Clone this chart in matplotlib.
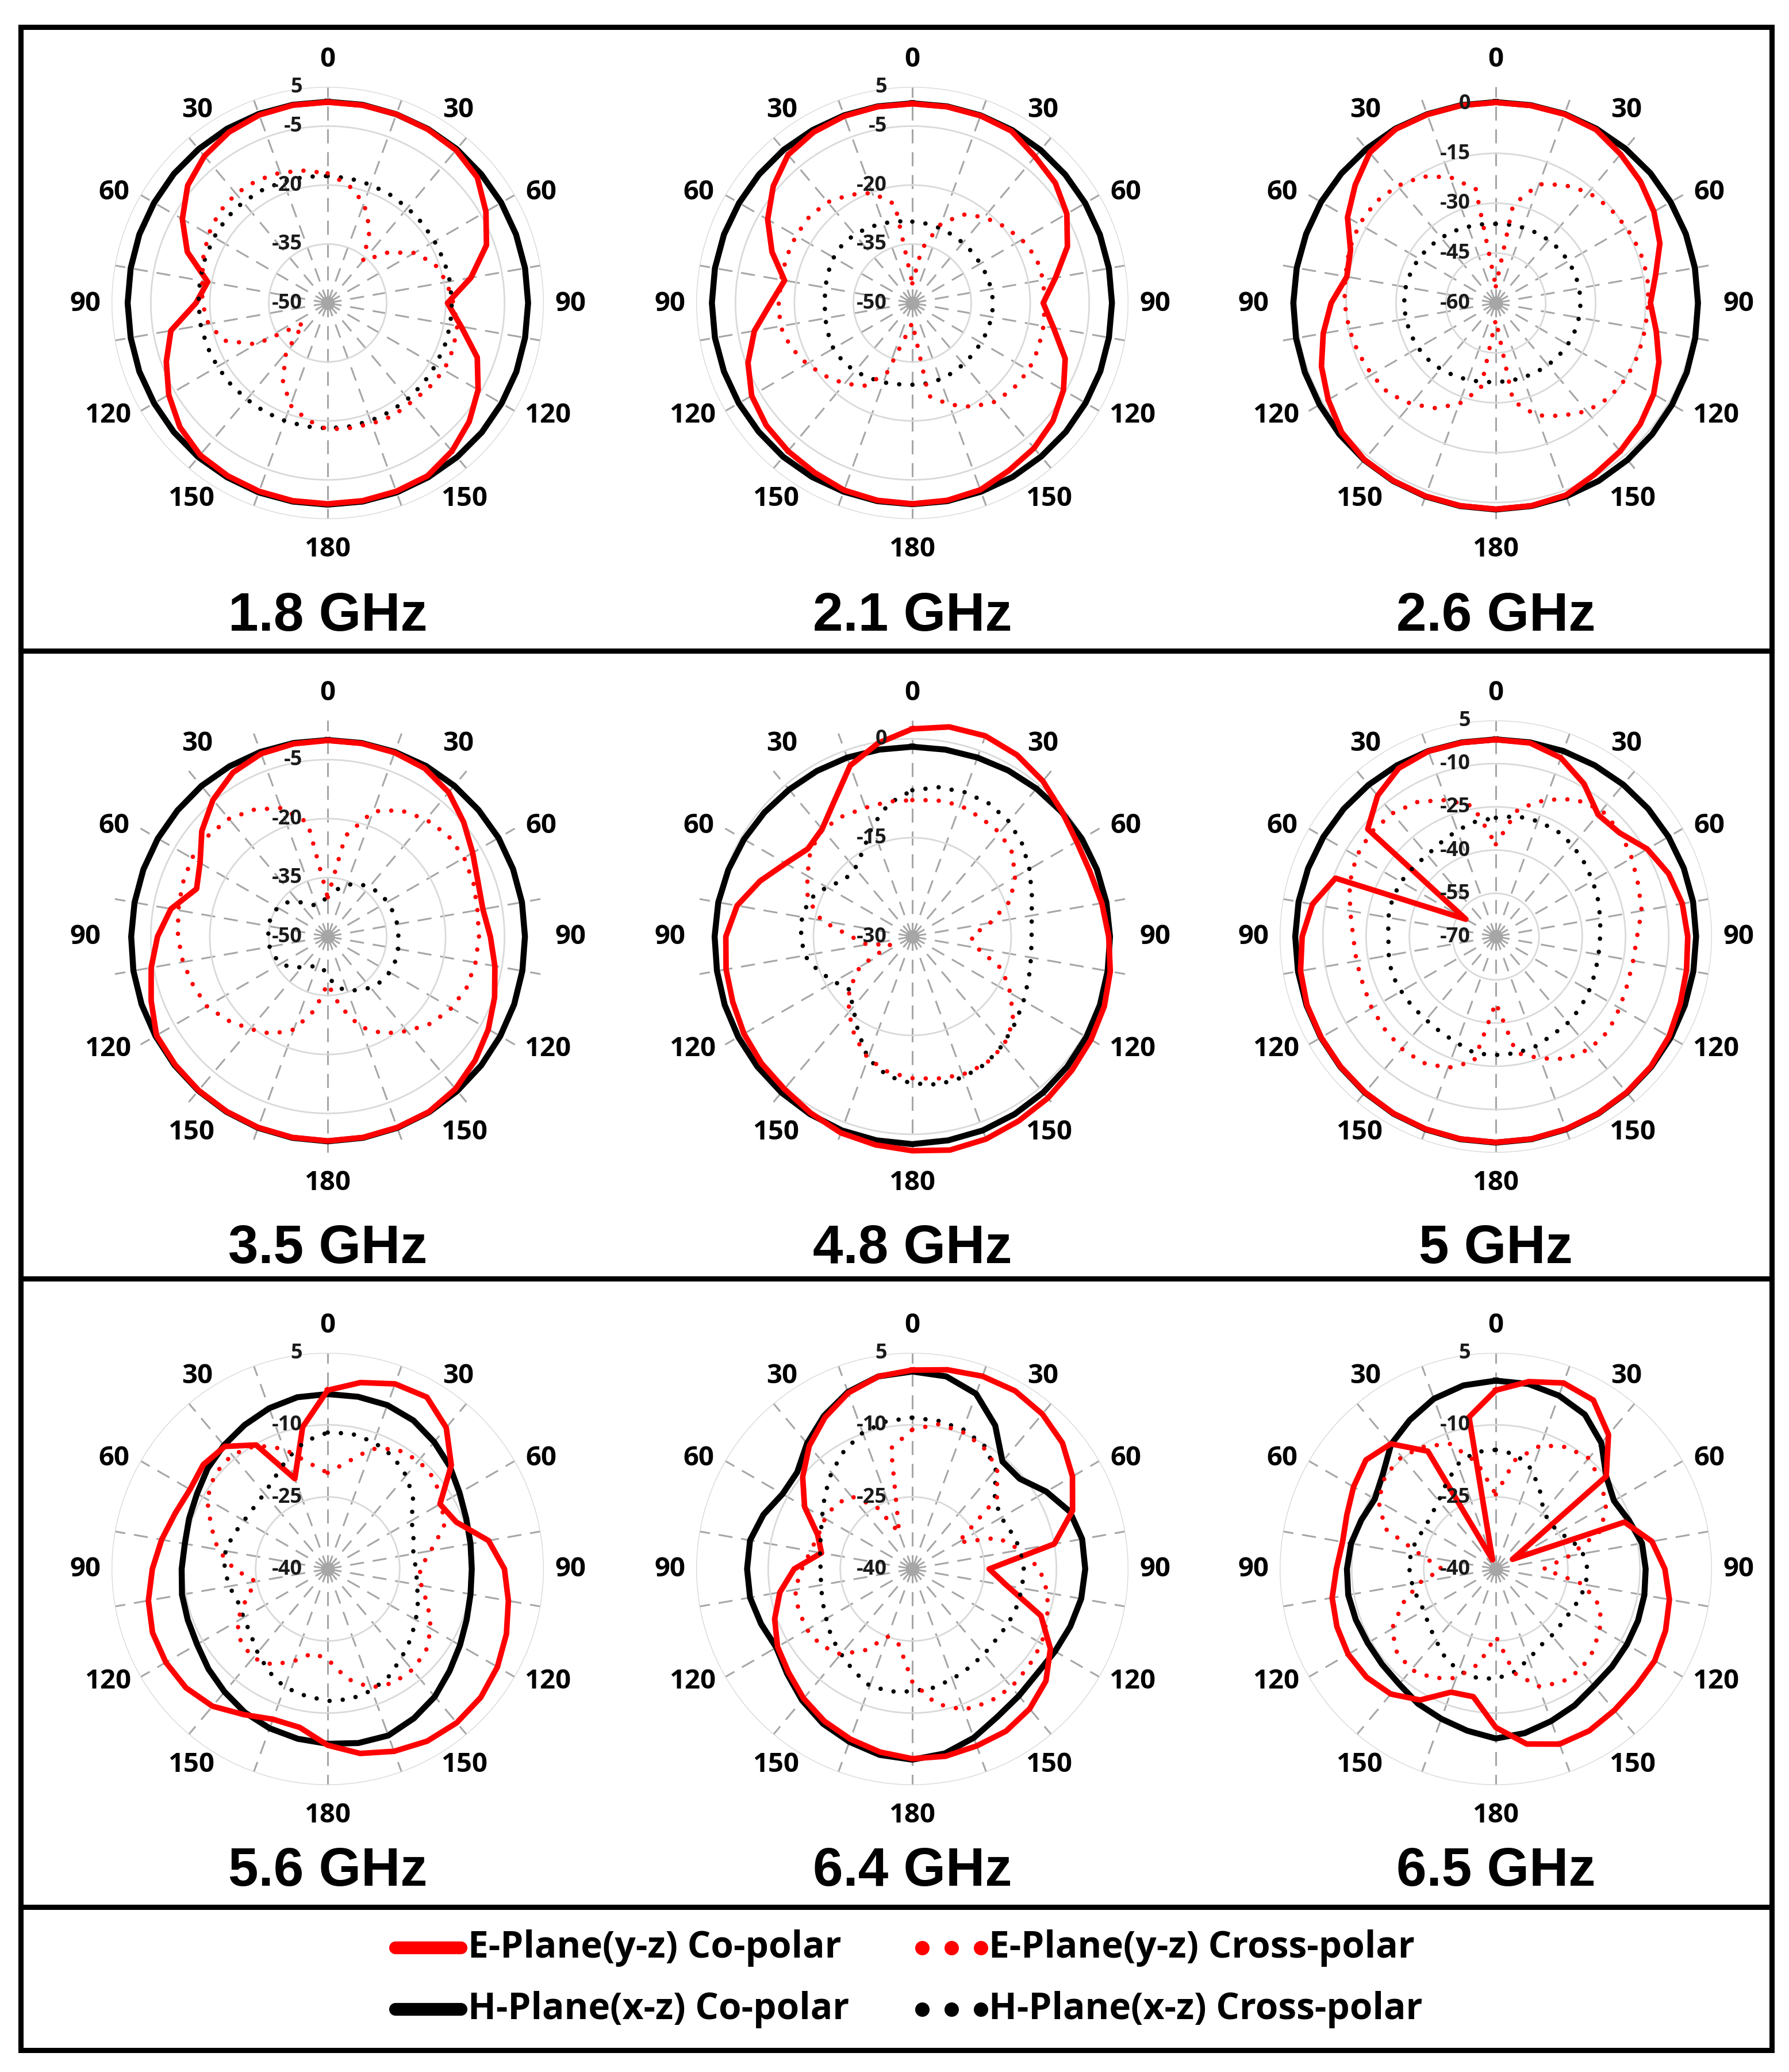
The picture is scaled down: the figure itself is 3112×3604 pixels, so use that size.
import numpy as np
import matplotlib
matplotlib.use("Agg")
import matplotlib.pyplot as plt
from matplotlib.lines import Line2D
from matplotlib.patches import Rectangle

# angulos medidos (graus), passo de 10
angulos = np.arange(0, 360, 10)

# ---------------- 1.8 GHz ----------------
e_co_18 = [1.1, 1.1, 1.1, 1.0, 0.8, -0.3, -3.5, -7.0, -13.0, -19.5, -15.5, -9.5, -5.8, -3.0, -0.8, 0.8, 1.0, 1.1,
           1.1, 1.1, 1.0, 0.8, 0.5, -0.9, -3.3, -6.3, -9.5, -16.5, -19.0, -12.0, -7.3, -3.5, -1.2, 0.2, 0.9, 1.1]
e_x_18 = [-17.0, -19.5, -23.0, -28.5, -36.0, -30.0, -24.5, -21.0, -19.3, -18.0, -16.5, -16.0, -15.8, -16.4, -17.0,
          -16.8, -17.3, -17.7, -17.8, -19.8, -22.3, -27.2, -33.5, -42.0, -29.0, -22.0, -19.2, -18.1, -17.6, -16.3,
          -15.0, -14.0, -13.7, -14.0, -14.7, -15.8]
h_co_18 = [1.2, 1.2, 1.1, 1.1, 1.1, 1.0, 1.0, 1.0, 1.0, 1.0, 1.0, 1.1, 1.1, 1.2, 1.2, 1.2, 1.3, 1.3,
           1.3, 1.3, 1.3, 1.2, 1.2, 1.1, 1.0, 1.0, 0.9, 0.9, 0.9, 1.0, 1.0, 1.1, 1.1, 1.2, 1.2, 1.2]
h_x_18 = [-17.7, -17.8, -18.0, -18.2, -18.4, -18.5, -18.6, -18.5, -18.4, -18.4, -18.3, -18.3, -18.3, -18.2, -18.2,
          -18.1, -18.1, -18.1, -18.1, -18.1, -18.1, -18.0, -18.0, -17.8, -17.6, -17.4, -17.2, -17.1, -17.0, -16.8,
          -16.6, -16.4, -16.5, -16.8, -17.1, -17.4]

# ---------------- 2.1 GHz ----------------
e_co_21 = [0.7, 0.7, 0.7, 0.5, -1.4, -2.5, -4.6, -8.0, -13.0, -16.7, -13.5, -8.6, -5.6, -3.3, -1.8, -0.8, 0.6, 1.0,
           1.1, 1.0, 0.7, -0.2, -0.8, -1.5, -2.8, -5.5, -9.2, -14.0, -17.0, -12.0, -7.5, -3.8, -0.8, 0.2, 0.6, 0.7]
e_x_21 = [-45.0, -36.0, -28.5, -24.0, -21.5, -19.6, -17.8, -16.4, -16.2, -16.3, -16.1, -15.9, -15.8, -16.3, -17.2,
          -19.5, -22.5, -26.0, -45.0, -42.0, -31.0, -25.7, -23.2, -21.1, -19.0, -17.1, -15.9, -16.0, -16.1, -15.9,
          -15.8, -15.8, -16.5, -18.2, -20.2, -24.5]
h_co_21 = [0.8, 0.8, 0.8, 0.8, 0.8, 0.8, 0.8, 0.8, 0.8, 0.8, 0.8, 0.9, 0.9, 1.0, 1.0, 1.1, 1.1, 1.2,
           1.2, 1.2, 1.1, 1.1, 1.1, 1.0, 1.0, 1.0, 1.0, 1.0, 1.0, 1.0, 0.9, 0.9, 0.9, 0.8, 0.8, 0.8]
h_x_21 = [-29.3, -29.5, -29.7, -29.9, -30.0, -30.0, -30.0, -29.8, -29.6, -29.4, -29.5, -29.6, -29.8, -29.8, -29.7,
          -29.5, -29.3, -29.2, -29.2, -29.0, -28.5, -28.0, -27.3, -26.9, -26.8, -27.2, -27.5, -27.7, -27.5, -27.2,
          -26.9, -26.8, -27.2, -27.8, -28.4, -28.9]

# ---------------- 2.6 GHz ----------------
e_co_26 = [0.3, 0.3, 0.4, 0.2, -1.6, -3.2, -5.1, -7.5, -11.2, -13.5, -11.0, -7.8, -5.2, -3.3, -1.8, -0.5, 1.5, 1.9,
           2.0, 1.9, 1.8, 1.7, 1.5, 0.5, -1.8, -4.2, -7.3, -10.5, -14.5, -13.5, -8.5, -4.8, -1.0, 0.3, 0.3, 0.3]
e_x_26 = [-55.0, -30.0, -22.0, -19.0, -16.6, -15.4, -14.6, -13.9, -13.7, -14.1, -14.4, -14.4, -14.7, -15.6, -17.5,
          -20.8, -24.0, -30.0, -55.0, -34.0, -27.7, -23.5, -20.4, -17.8, -16.9, -16.0, -15.2, -14.5, -14.0, -13.1,
          -12.6, -12.8, -14.0, -16.1, -19.7, -25.2]
h_co_26 = [0.4, 0.4, 0.5, 0.5, 0.6, 0.7, 0.7, 0.8, 0.8, 0.8, 0.9, 1.1, 1.2, 1.4, 1.6, 1.8, 1.9, 2.0,
           2.1, 2.0, 1.9, 1.8, 1.6, 1.4, 1.2, 1.1, 1.0, 0.9, 0.8, 0.7, 0.7, 0.6, 0.5, 0.5, 0.4, 0.4]
h_x_26 = [-36.2, -36.1, -35.9, -35.6, -35.3, -35.0, -34.8, -34.6, -34.5, -34.5, -34.6, -34.8, -35.0, -35.3, -35.6,
          -35.9, -36.1, -36.2, -36.2, -35.9, -35.4, -34.8, -34.1, -33.5, -33.0, -32.7, -32.5, -32.4, -32.5, -32.8,
          -33.2, -33.8, -34.4, -35.0, -35.6, -36.0]

# ---------------- 3.5 GHz ----------------
e_co_35 = [-0.1, -0.1, -0.2, -0.6, -2.1, -4.8, -7.4, -9.3, -9.9, -8.6, -6.8, -4.8, -2.8, -1.0, 0.6, 1.5, 1.7, 1.9,
           2.0, 1.9, 1.7, 1.4, 1.1, 0.7, 0.3, -2.2, -4.4, -6.7, -9.5, -14.5, -12.5, -8.2, -4.6, -1.8, -0.5, -0.2]
e_x_35 = [-40.0, -24.0, -16.1, -12.9, -11.1, -10.0, -9.9, -10.5, -11.3, -11.5, -11.8, -12.3, -13.6, -15.6, -18.6,
          -21.5, -25.5, -32.0, -38.0, -31.0, -24.8, -21.4, -19.3, -16.8, -14.5, -13.6, -12.6, -11.9, -11.4, -10.7,
          -10.1, -10.2, -10.9, -12.7, -15.2, -20.5]
h_co_35 = [0.0, 0.0, 0.0, 0.1, 0.1, 0.1, 0.2, 0.2, 0.2, 0.2, 0.3, 0.5, 0.7, 1.0, 1.3, 1.6, 1.8, 2.0,
           2.1, 2.0, 1.8, 1.5, 1.2, 0.9, 0.6, 0.4, 0.2, 0.0, -0.1, -0.1, -0.1, -0.1, 0.0, 0.0, 0.0, 0.0]
h_x_35 = [-40.0, -38.0, -36.0, -34.5, -33.5, -32.8, -32.4, -32.2, -32.0, -32.0, -31.8, -31.7, -31.8, -32.2, -33.0,
          -34.3, -35.3, -37.0, -40.0, -42.0, -42.0, -41.2, -39.8, -37.8, -36.2, -35.5, -35.0, -34.9, -34.7, -34.7,
          -35.3, -36.5, -38.5, -40.5, -41.6, -41.0]

# ---------------- 4.8 GHz ----------------
e_co_48 = [1.5, 2.3, 2.4, 1.8, 0.8, -0.4, -1.2, -1.3, -0.8, -0.2, 0.5, 1.0, 1.3, 1.6, 2.0, 2.3, 2.7, 2.9,
           2.5, 2.1, 1.7, 0.9, 0.2, -0.1, -0.5, -1.0, -1.3, -1.7, -3.0, -5.4, -7.8, -9.3, -8.7, -6.3, -2.4, -0.2]
e_x_48 = [-9.3, -9.0, -8.8, -9.2, -9.4, -10.2, -12.0, -14.2, -18.0, -21.1, -20.0, -15.5, -12.8, -10.0, -8.4,
          -7.7, -7.7, -8.1, -8.5, -9.1, -10.3, -12.5, -15.0, -17.5, -20.8, -26.5, -23.0, -20.7, -16.0, -13.1,
          -11.6, -9.8, -8.8, -8.9, -9.2, -9.2]
h_co_48 = [-1.2, -1.2, -1.1, -0.9, -0.7, -0.5, -0.3, -0.2, -0.1, 0.0, 0.1, 0.3, 0.5, 0.7, 0.9, 1.1, 1.3, 1.4,
           1.5, 1.4, 1.3, 1.1, 0.9, 0.7, 0.5, 0.3, 0.1, 0.0, -0.1, -0.3, -0.5, -0.7, -0.9, -1.0, -1.1, -1.2]
h_x_48 = [-7.8, -7.0, -6.7, -6.7, -7.2, -8.2, -9.5, -10.7, -11.6, -11.9, -11.7, -11.2, -10.5, -9.6, -8.6,
          -7.7, -7.3, -7.2, -7.7, -8.5, -10.3, -13.5, -16.0, -17.5, -16.3, -14.8, -13.4, -13.1, -13.0, -13.4,
          -15.0, -16.6, -16.5, -15.0, -12.2, -9.5]

# ---------------- 5 GHz ----------------
e_co_5 = [-1.7, -1.8, -4.0, -8.8, -14.8, -14.0, -9.3, -6.2, -4.3, -3.4, -2.8, -1.9, -0.6, 0.2, 0.6, 0.9, 1.1, 1.3,
          1.4, 1.3, 1.1, 0.9, 0.6, 0.3, 0.0, -0.3, -1.2, -2.8, -5.4, -10.8, -58.0, -12.0, -6.2, -2.6, -1.6, -1.7]
e_x_5 = [-38.0, -25.0, -19.5, -15.0, -12.8, -13.6, -15.5, -17.4, -18.6, -21.0, -21.6, -21.4, -20.4, -19.0, -19.2,
         -21.0, -25.0, -29.0, -47.0, -26.0, -21.5, -19.4, -19.2, -19.8, -20.3, -21.0, -20.9, -20.5, -18.7, -16.0,
         -14.2, -13.6, -14.2, -16.0, -19.6, -24.0]
h_co_5 = [-1.6, -1.6, -1.5, -1.4, -1.2, -1.0, -0.8, -0.6, -0.5, -0.5, -0.4, -0.2, 0.1, 0.4, 0.7, 1.0, 1.2, 1.4,
          1.5, 1.4, 1.2, 1.0, 0.7, 0.4, 0.1, -0.1, -0.3, -0.4, -0.5, -0.7, -0.9, -1.1, -1.3, -1.4, -1.5, -1.6]
h_x_5 = [-28.8, -27.6, -27.4, -27.6, -28.6, -30.0, -31.2, -32.3, -33.2, -33.8, -33.8, -33.3, -32.6, -31.6, -31.0,
         -30.6, -29.5, -28.9, -28.9, -28.8, -30.7, -31.7, -32.3, -32.2, -32.1, -31.6, -32.3, -32.7, -32.1, -31.8,
         -32.0, -32.6, -33.0, -32.2, -30.8, -29.5]

# ---------------- 5.6 GHz ----------------
e_co_56 = [-2.8, -0.6, 1.0, 1.3, -1.6, -6.4, -13.0, -11.5, -6.0, -3.2, -1.8, -0.4, 0.8, 1.6, 1.8, 1.4, 0.4, -1.0,
           -3.3, -6.5, -6.7, -5.0, -2.7, -1.5, -1.1, -1.2, -2.1, -3.5, -4.9, -6.2, -6.9, -6.2, -6.7, -10.2, -20.0, -10.0]
e_x_56 = [-20.0, -17.5, -13.4, -11.2, -10.6, -10.9, -12.6, -14.2, -18.2, -20.8, -20.2, -17.8, -15.2, -13.3, -12.6,
          -12.6, -13.7, -16.8, -21.2, -22.2, -19.6, -17.0, -15.8, -16.4, -18.2, -22.0, -24.8, -20.5, -16.8, -14.2,
          -11.0, -9.3, -9.0, -10.3, -13.4, -17.6]
h_co_56 = [-3.6, -3.6, -3.7, -4.3, -5.5, -6.8, -8.3, -9.3, -9.8, -10.0, -9.8, -9.2, -8.2, -6.9, -5.3, -4.1, -3.1, -3.2,
           -3.6, -4.1, -4.7, -5.5, -6.6, -7.6, -8.6, -9.0, -9.2, -9.6, -9.8, -9.3, -8.6, -7.4, -6.4, -5.4, -4.4, -3.7]
h_x_56 = [-11.6, -11.4, -11.9, -12.9, -14.6, -16.8, -19.8, -21.0, -21.9, -21.6, -21.1, -20.0, -18.8, -17.4, -16.0,
          -14.3, -13.1, -12.5, -12.5, -13.2, -13.8, -15.4, -17.3, -19.0, -19.8, -20.1, -19.2, -18.5, -18.4, -19.1,
          -19.9, -20.0, -19.5, -18.0, -15.5, -13.0]

# ---------------- 6.4 GHz ----------------
e_co_64 = [1.4, 2.1, 2.7, 2.8, 2.1, 0.8, -1.5, -4.5, -10.0, -24.0, -20.0, -11.5, -6.8, -3.7, -2.0, -1.0, -0.8, -0.4,
           -0.5, -1.3, -2.3, -3.4, -4.8, -6.4, -7.6, -9.5, -12.0, -15.4, -20.8, -19.0, -14.1, -10.2, -6.6, -3.6, -1.0, 0.7]
e_x_64 = [-11.0, -9.4, -9.6, -10.6, -12.5, -17.0, -29.0, -21.0, -17.2, -13.5, -11.4, -10.1, -8.9, -8.4, -7.9,
          -8.0, -8.8, -11.5, -16.5, -24.0, -25.0, -20.5, -16.8, -15.2, -14.7, -14.8, -15.2, -17.0, -18.5, -19.2,
          -19.0, -19.1, -20.3, -25.0, -32.0, -14.5]
h_co_64 = [1.1, 0.7, -1.2, -5.5, -10.8, -10.8, -7.8, -5.1, -4.1, -4.0, -4.3, -5.0, -5.7, -6.1, -5.5, -4.5, -2.6, -1.0,
           -0.3, -0.7, -1.7, -2.8, -4.3, -6.0, -7.3, -6.5, -5.7, -5.6, -5.7, -7.0, -8.8, -8.7, -5.9, -3.2, -0.8, 0.7]
h_x_64 = [-8.5, -8.7, -9.1, -10.2, -13.0, -17.6, -18.6, -18.0, -17.1, -16.8, -16.8, -16.9, -17.0, -17.2, -16.8,
          -16.3, -15.6, -14.9, -14.5, -14.1, -14.1, -15.5, -16.9, -18.0, -19.3, -20.1, -20.7, -20.9, -20.5, -19.7,
          -18.3, -16.2, -13.8, -11.6, -9.8, -8.8]

# ---------------- 6.5 GHz ----------------
e_co_65 = [-2.8, -0.4, 1.2, 0.6, -3.5, -10.0, -36.0, -11.5, -7.0, -4.8, -3.3, -2.4, -1.8, -1.9, -1.6, -1.1, -1.2, -3.0,
           -7.0, -13.0, -12.7, -8.5, -6.0, -4.9, -4.5, -4.8, -5.4, -6.8, -7.6, -7.0, -5.8, -4.7, -6.0, -11.7, -38.0, -7.9]
e_x_65 = [-24.5, -17.0, -12.6, -10.7, -9.9, -11.5, -13.5, -16.7, -24.5, -30.0, -21.5, -16.8, -15.0, -13.5, -12.6,
          -12.7, -14.0, -18.0, -26.0, -20.0, -15.8, -13.8, -12.6, -13.1, -15.0, -19.5, -24.0, -28.8, -24.5, -15.5,
          -11.8, -9.9, -9.5, -10.5, -12.3, -17.5]
h_co_65 = [-0.8, -0.9, -1.6, -2.9, -5.8, -10.0, -11.6, -10.5, -9.1, -8.8, -8.6, -8.5, -8.5, -8.4, -8.2, -7.2, -6.3, -5.3,
           -4.7, -5.8, -6.8, -7.6, -8.7, -9.1, -9.2, -9.0, -8.8, -9.0, -9.4, -10.2, -10.9, -9.3, -6.1, -4.2, -2.3, -1.2]
h_x_65 = [-15.2, -15.8, -18.0, -21.5, -24.5, -25.2, -24.8, -23.0, -21.6, -20.9, -21.0, -21.5, -22.1, -22.2, -21.9,
          -21.5, -20.0, -18.2, -17.1, -17.0, -17.4, -18.8, -20.6, -21.8, -22.7, -22.6, -22.3, -22.0, -22.0, -22.4,
          -22.9, -22.5, -21.5, -19.4, -16.8, -15.3]

titulos = ["1.8 GHz", "2.1 GHz", "2.6 GHz", "3.5 GHz", "4.8 GHz", "5 GHz", "5.6 GHz", "6.4 GHz", "6.5 GHz"]
dados = [(e_co_18, e_x_18, h_co_18, h_x_18), (e_co_21, e_x_21, h_co_21, h_x_21), (e_co_26, e_x_26, h_co_26, h_x_26),
         (e_co_35, e_x_35, h_co_35, h_x_35), (e_co_48, e_x_48, h_co_48, h_x_48), (e_co_5, e_x_5, h_co_5, h_x_5),
         (e_co_56, e_x_56, h_co_56, h_x_56), (e_co_64, e_x_64, h_co_64, h_x_64), (e_co_65, e_x_65, h_co_65, h_x_65)]

# escala radial de cada grafico: (minimo no centro, maximo na ponta dos raios, valores rotulados)
escalas = [(-50, 5, [-50, -35, -20, -5, 5]), (-50, 5, [-50, -35, -20, -5, 5]), (-60, 5, [-60, -45, -30, -15, 0]),
           (-50, 5, [-50, -35, -20, -5]), (-30, 2.8, [-30, -15, 0]), (-70, 5, [-70, -55, -40, -25, -10, 5]),
           (-40, 5, [-40, -25, -10, 5]), (-40, 5, [-40, -25, -10, 5]), (-40, 5, [-40, -25, -10, 5])]

# rotulos angulares: texto, angulo onde fica o centro do texto e distancia ao centro (px)
rotulos_ang = [("0", 0, 425), ("30", 34, 406), ("60", 62.5, 419), ("90", 90, 422), ("120", 117, 429),
               ("150", 145, 414), ("180", 180, 428), ("150", 215, 414), ("120", 243, 429), ("90", 270, 422),
               ("60", 297.5, 419), ("30", 326, 406)]

# geometria em pixels da figura
W, H = 3112, 3605
R = 376
centros_x = [570, 1587, 2602]
centros_y = [528, 1630, 2730]
titulos_y = [1073, 2173, 3256]

fig = plt.figure(figsize=(W / 100, H / 100), dpi=100)
fig.patch.set_facecolor("white")

theta = np.deg2rad(np.append(angulos, 360))


def fechar(v):
    return np.append(v, v[0])


for i in range(9):
    lin, col = divmod(i, 3)
    cx, cy = centros_x[col], centros_y[lin]
    rmin, rmax, ticks = escalas[i]
    e_co, e_x, h_co, h_x = dados[i]

    ax = fig.add_axes([(cx - R) / W, 1 - (cy + R) / H, 2 * R / W, 2 * R / H], projection="polar")
    ax.set_theta_zero_location("N")
    ax.set_theta_direction(-1)
    ax.set_ylim(rmin, rmax)
    ax.set_axisbelow(True)
    ax.set_facecolor("none")
    ax.spines["polar"].set_visible(False)
    ax.set_xticks(np.deg2rad(np.arange(0, 360, 20)))
    ax.set_xticklabels([])
    ax.set_yticks([t for t in ticks if t > rmin])
    ax.set_yticklabels([])
    ax.tick_params(length=0)
    ax.xaxis.grid(True, color="#a6a6a6", lw=2.2, linestyle=(0, (8, 5)))
    ax.yaxis.grid(True, color="#d9d9d9", lw=2.0, linestyle="-")

    # curvas
    ax.plot(theta, fechar(h_co), color="black", lw=7.5, clip_on=False, zorder=3)
    ax.plot(theta, fechar(e_co), color="red", lw=7.0, clip_on=False, zorder=4)
    ax.plot(theta, fechar(h_x), color="black", lw=5.5, linestyle=(0, (0.01, 3.0)),
            dash_capstyle="round", clip_on=False, zorder=5)
    ax.plot(theta, fechar(e_x), color="red", lw=5.5, linestyle=(0, (0.01, 3.0)),
            dash_capstyle="round", clip_on=False, zorder=6)
    ax.plot([0], [rmin], "o", color="#a6a6a6", ms=16, clip_on=False, zorder=2)

    # rotulos radiais
    for t in ticks:
        ax.text(0.5 - 44 / (2 * R), 0.5 + 0.5 * (t - rmin) / (rmax - rmin), str(t), transform=ax.transAxes,
                ha="right", va="center", fontsize=26, fontweight="bold", family="Open Sans",
                color="#1a1a1a", zorder=7)

    # rotulos angulares
    for lab, a, dist in rotulos_ang:
        ar = np.deg2rad(a)
        f = dist / (2 * R)
        ax.text(0.5 + f * np.sin(ar), 0.5 + f * np.cos(ar), lab, transform=ax.transAxes,
                ha="center", va="center", fontsize=34, fontweight="bold", family="Open Sans")

    fig.text(cx / W, 1 - titulos_y[lin] / H, titulos[i], ha="center", va="center",
             fontsize=68, fontweight="bold", family="Liberation Sans")

# moldura e divisorias
x0, x1 = 36 / W, 3082 / W
fig.add_artist(Rectangle((x0, 1 - 3567 / H), x1 - x0, (3567 - 48) / H, transform=fig.transFigure,
                         fill=False, edgecolor="black", lw=6.5))
for yl in [1133, 2225, 3318]:
    fig.add_artist(Line2D([x0, x1], [1 - yl / H, 1 - yl / H], transform=fig.transFigure, color="black", lw=6.5))

# legenda
leg = [("red", "-", "E-Plane(y-z) Co-polar", 3389), ("red", ":", "E-Plane(y-z) Cross-polar", 3389),
       ("black", "-", "H-Plane(x-z) Co-polar", 3496), ("black", ":", "H-Plane(x-z) Cross-polar", 3496)]
for cor, estilo, texto, yy in leg:
    fy = 1 - yy / H
    if estilo == "-":
        fig.add_artist(Line2D([688 / W, 802 / W], [fy, fy], transform=fig.transFigure, color=cor, lw=16,
                              solid_capstyle="round"))
        xt = 814
    else:
        fig.add_artist(Line2D(np.array([1604, 1655, 1706]) / W, [fy] * 3, transform=fig.transFigure,
                              color=cor, ls="none", marker="o", ms=17))
        xt = 1720
    fig.text(xt / W, fy, texto, ha="left", va="center", fontsize=46, fontweight="bold", family="Open Sans")

fig.savefig("out.png", dpi=100)
